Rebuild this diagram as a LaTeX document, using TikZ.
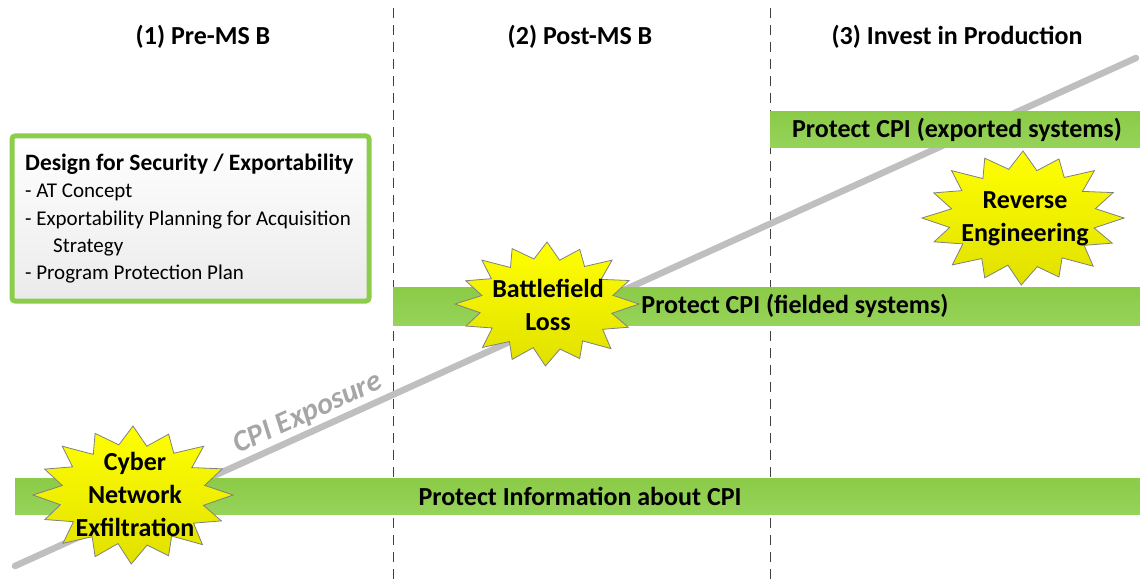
\documentclass[tikz,border=0pt]{standalone}
\usepackage{fontspec}
\setmainfont{Carlito}
\begin{document}
\begin{tikzpicture}[x=1pt,y=-1pt,
  phase/.style={font=\bfseries\fontsize{26}{30}\selectfont},
  divider/.style={draw=black!75,line width=1pt,dash pattern=on 10pt off 7pt},
  exposure/.style={draw=black!25,line width=6.5pt,line cap=round},
  bar/.style={draw=none,shade,top color=barTop,bottom color=barBot,inner sep=0pt},
  bartext/.style={font=\bfseries\fontsize{26}{30}\selectfont},
  bursttext/.style={font=\bfseries\fontsize{26}{33}\selectfont,align=center},
  burstfill/.style={draw=black!50,line width=0.8pt,shade,top color=yellow,bottom color=yellow!88!black},
  burst/.pic={
    \path[burstfill] (0:1)
      \foreach \a/\r in {12/0.72,23/0.96,34/0.73,46/1.0,57/0.71,68/0.95,79/0.74,91/1.0,
                         102/0.72,113/0.97,124/0.73,135/0.99,147/0.71,158/0.95,169/0.74,
                         180/1.0,191/0.72,203/0.96,214/0.73,225/1.0,236/0.71,247/0.97,
                         259/0.74,270/1.0,281/0.72,292/0.95,304/0.73,315/1.0,326/0.71,
                         337/0.97,349/0.73} { -- (\a:\r) } -- cycle;
  }]
\definecolor{barTop}{HTML}{8BCB47}
\definecolor{barBot}{HTML}{96D35A}
\definecolor{boxGreen}{HTML}{8DCD4C}
\useasboundingbox (0,0) rectangle (1140,580);

% phase dividers and headings
\coordinate (d1top) at (393,8);  \coordinate (d1bot) at (393,580);
\coordinate (d2top) at (770,8);  \coordinate (d2bot) at (770,580);
\draw[divider] (d1top) -- (d1bot);
\draw[divider] (d2top) -- (d2bot);
\node[phase] (h1) at (203,37) {(1) Pre-MS B};
\node[phase] (h2) at (580,37) {(2) Post-MS B};
\node[phase] (h3) at (957,37) {(3) Invest in Production};

% rising exposure line
\coordinate (e0) at (15,566);
\coordinate (e1) at (1136,58);
\draw[exposure] (e0) -- (e1);
\node[text=black!35,font=\bfseries\itshape\fontsize{30}{34}\selectfont,rotate=24.4]
  (explabel) at (308,414) {CPI Exposure};

% protection bars
\node[bar,minimum width=370pt,minimum height=36pt] (bar1) at (955,130) {};
\node[bar,minimum width=747pt,minimum height=38pt] (bar2) at (766.5,306) {};
\node[bar,minimum width=1125pt,minimum height=36pt] (bar3) at (577.5,496) {};
\node[bartext] (t1) at (957,130) {Protect CPI (exported systems)};
\node[bartext] (t2) at (795,306) {Protect CPI (fielded systems)};
\node[bartext] (t3) at (580,496) {Protect Information about CPI};

% design box
\node[draw=boxGreen,line width=5pt,rounded corners=3pt,shade,top color=white,bottom color=black!8,
      minimum width=357pt,minimum height=165pt,inner sep=0pt] (box) at (190.5,218.5) {};
\node[anchor=north west,inner sep=0pt,align=left,font=\fontsize{21}{27.3}\selectfont] (boxtext) at (25,154)
  {{\bfseries\fontsize{23.5}{24}\selectfont Design for Security / Exportability}\\
   - AT Concept\\
   - Exportability Planning for Acquisition\\
   \hspace*{28pt}Strategy\\
   - Program Protection Plan};

% threat bursts
\pic[xscale=100,yscale=69] at (133,495) {burst};
\node[bursttext] (s1) at (135,494) {Cyber\\Network\\Exfiltration};
\pic[xscale=92,yscale=62] at (547,304) {burst};
\node[bursttext] (s2) at (548,305) {Battlefield\\Loss};
\pic[xscale=101,yscale=67] at (1023,218) {burst};
\node[bursttext] (s3) at (1025,219) {Reverse\\Engineering};
\end{tikzpicture}
\end{document}
